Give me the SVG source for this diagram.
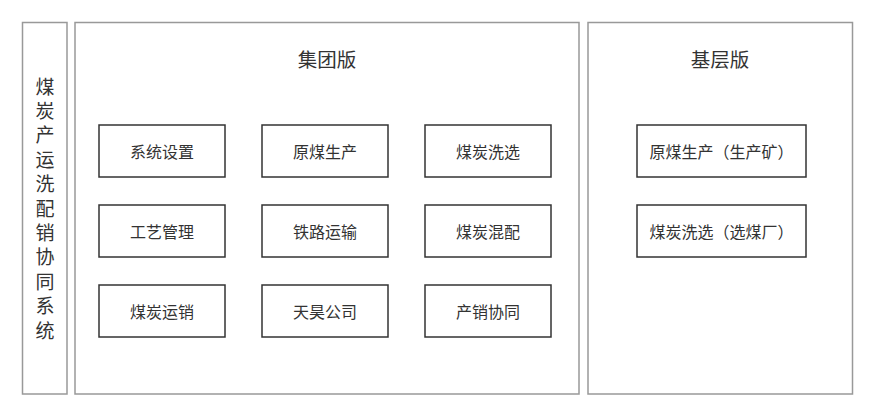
<svg xmlns="http://www.w3.org/2000/svg" width="875" height="417" viewBox="0 0 875 417">
<style>
.panel{fill:#fff;stroke:#999;stroke-width:1.5}
.node{fill:#fff;stroke:#333;stroke-width:1.5}
text{font-family:"Noto Sans CJK SC","Noto Sans",sans-serif;fill:#333;text-anchor:middle;dominant-baseline:central}
.lbl{font-size:16px}
.ttl{font-size:19.5px}
.vt{font-size:19px}
</style>
<rect width="875" height="417" fill="#fff"/>
<g id="side">
<rect class="panel" x="22.5" y="22.5" width="44.5" height="371.5"/>
<text class="vt" x="45" y="85">煤</text>
<text class="vt" x="45" y="109.4">炭</text>
<text class="vt" x="45" y="133.8">产</text>
<text class="vt" x="45" y="158.2">运</text>
<text class="vt" x="45" y="182.6">洗</text>
<text class="vt" x="45" y="207">配</text>
<text class="vt" x="45" y="231.4">销</text>
<text class="vt" x="45" y="255.8">协</text>
<text class="vt" x="45" y="280.2">同</text>
<text class="vt" x="45" y="304.6">系</text>
<text class="vt" x="45" y="329">统</text>
</g>
<g id="group">
<rect class="panel" x="75" y="22.5" width="504" height="371.5"/>
<text class="ttl" x="327" y="58">集团版</text>
</g>
<g id="base">
<rect class="panel" x="588" y="22.5" width="264.5" height="371.5"/>
<text class="ttl" x="720" y="58">基层版</text>
</g>
<g id="n1"><rect class="node" x="99" y="125" width="126" height="52"/><text class="lbl" x="162" y="151">系统设置</text></g>
<g id="n2"><rect class="node" x="262" y="125" width="126" height="52"/><text class="lbl" x="325" y="151">原煤生产</text></g>
<g id="n3"><rect class="node" x="425" y="125" width="126" height="52"/><text class="lbl" x="488" y="151">煤炭洗选</text></g>
<g id="n4"><rect class="node" x="99" y="205" width="126" height="52"/><text class="lbl" x="162" y="231">工艺管理</text></g>
<g id="n5"><rect class="node" x="262" y="205" width="126" height="52"/><text class="lbl" x="325" y="231">铁路运输</text></g>
<g id="n6"><rect class="node" x="425" y="205" width="126" height="52"/><text class="lbl" x="488" y="231">煤炭混配</text></g>
<g id="n7"><rect class="node" x="99" y="285" width="126" height="52"/><text class="lbl" x="162" y="311">煤炭运销</text></g>
<g id="n8"><rect class="node" x="262" y="285" width="126" height="52"/><text class="lbl" x="325" y="311">天昊公司</text></g>
<g id="n9"><rect class="node" x="425" y="285" width="126" height="52"/><text class="lbl" x="488" y="311">产销协同</text></g>
<g id="n10"><rect class="node" x="637" y="125" width="169" height="52"/><text class="lbl" x="721.5" y="151">原煤生产（生产矿）</text></g>
<g id="n11"><rect class="node" x="637" y="205" width="169" height="52"/><text class="lbl" x="721.5" y="231">煤炭洗选（选煤厂）</text></g>
<g id="connectors"/>
</svg>
